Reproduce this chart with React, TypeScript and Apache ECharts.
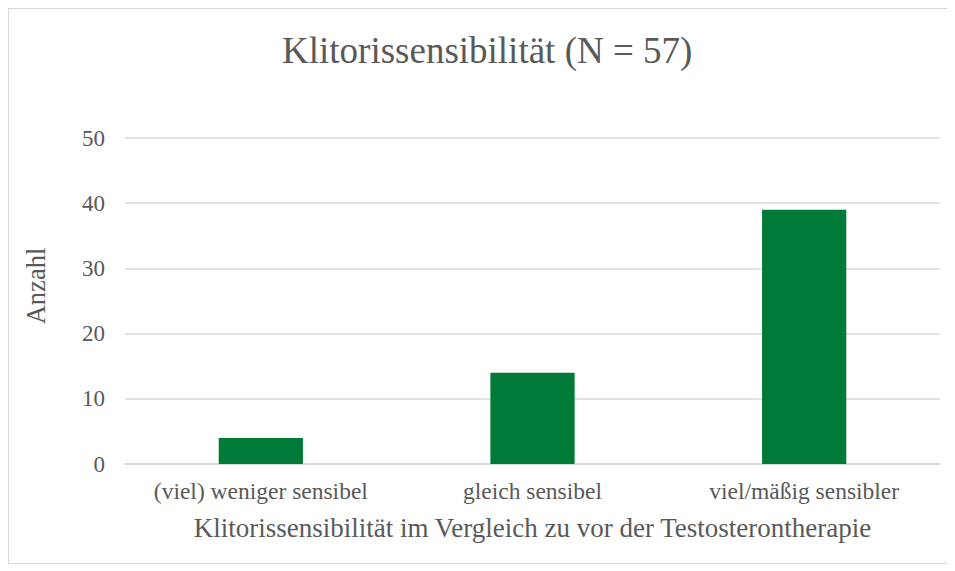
import React, { useEffect, useRef } from "react";
import * as echarts from "echarts";

const titleText = "Klitorissensibilität (N = 57)";
const categories = ["(viel) weniger sensibel", "gleich sensibel", "viel/mäßig sensibler"];
const counts = [4, 14, 39];
const xAxisName = "Klitorissensibilität im Vergleich zu vor der Testosterontherapie";
const yAxisName = "Anzahl";

const FONT = '"Liberation Serif", "Times New Roman", serif';
const TEXT = "#595959";

export default function App() {
  const ref = useRef<HTMLDivElement>(null);
  useEffect(() => {
    if (!ref.current) return;
    const chart = echarts.init(ref.current, null, { renderer: "svg" });
    chart.setOption({
      animation: false,
      textStyle: { fontFamily: FONT },
      title: {
        text: titleText,
        left: 268,
        top: 18,
        textStyle: { fontFamily: FONT, fontSize: 37, fontWeight: "normal", color: TEXT },
      },
      grid: { left: 116, right: 7, top: 129, bottom: 99 },
      xAxis: {
        type: "category",
        data: categories,
        name: xAxisName,
        nameLocation: "middle",
        nameGap: 50,
        nameTextStyle: { fontFamily: FONT, fontSize: 27, color: TEXT },
        axisLine: { lineStyle: { color: "#D9D9D9", width: 1.5 } },
        axisTick: { show: false },
        axisLabel: { fontFamily: FONT, fontSize: 23.5, color: TEXT, margin: 15, interval: 0 },
      },
      yAxis: {
        type: "value",
        min: 0,
        max: 50,
        interval: 10,
        name: yAxisName,
        nameLocation: "middle",
        nameGap: 76,
        nameTextStyle: { fontFamily: FONT, fontSize: 26.5, color: TEXT, padding: [0, 0, 0, 30] },
        axisLine: { show: false },
        axisTick: { show: false },
        splitLine: { lineStyle: { color: "#D9D9D9", width: 1.5 } },
        axisLabel: { fontFamily: FONT, fontSize: 23, color: TEXT, margin: 20 },
      },
      series: [
        {
          type: "bar",
          data: counts,
          barWidth: "31%",
          itemStyle: { color: "#007A37" },
        },
      ],
    });
    return () => chart.dispose();
  }, []);
  return (
    <div
      ref={ref}
      style={{
        width: 940,
        height: 556,
        border: "1px solid #D9D9D9",
        boxSizing: "border-box",
        background: "#fff",
      }}
    />
  );
}
